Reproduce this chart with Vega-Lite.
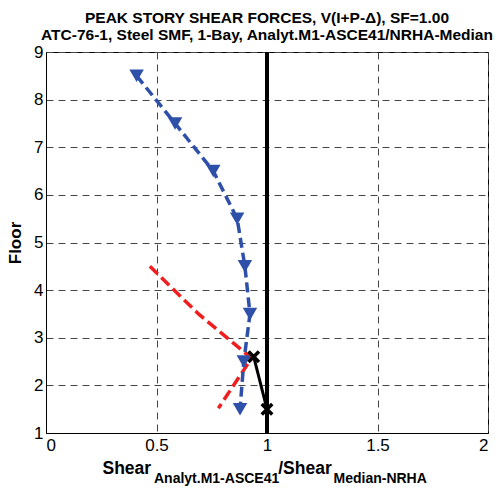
{
  "$schema": "https://vega.github.io/schema/vega-lite/v6.json",
  "width": 442,
  "height": 381,
  "autosize": {"type": "none"},
  "padding": {"left": 46, "top": 52, "right": 15, "bottom": 56},
  "background": "white",
  "title": {
    "text": ["PEAK STORY SHEAR FORCES, V(I+P-Δ), SF=1.00", "ATC-76-1, Steel SMF, 1-Bay, Analyt.M1-ASCE41/NRHA-Median"],
    "font": "Liberation Sans",
    "fontSize": 15.5,
    "fontWeight": "bold",
    "color": "black",
    "anchor": "middle",
    "frame": "group",
    "lineHeight": 16.5,
    "offset": 0
  },
  "config": {
    "view": {"stroke": "black", "strokeWidth": 1},
    "axis": {
      "labelFont": "Liberation Sans",
      "labelFontSize": 17,
      "labelColor": "black",
      "titleFont": "Liberation Sans",
      "titleFontWeight": "bold",
      "titleColor": "black",
      "domainColor": "black",
      "domainWidth": 1,
      "ticks": false,
      "gridColor": "#444444",
      "gridDash": [7, 5],
      "gridWidth": 1,
      "gridOpacity": 1
    }
  },
  "data": {
    "values": [
      {"series": "Analyt", "floor": 8.5, "ratio": 0.41},
      {"series": "Analyt", "floor": 7.5, "ratio": 0.584},
      {"series": "Analyt", "floor": 6.5, "ratio": 0.757},
      {"series": "Analyt", "floor": 5.5, "ratio": 0.865},
      {"series": "Analyt", "floor": 4.5, "ratio": 0.9},
      {"series": "Analyt", "floor": 3.5, "ratio": 0.923},
      {"series": "Analyt", "floor": 2.5, "ratio": 0.895},
      {"series": "Analyt", "floor": 1.5, "ratio": 0.878},
      {"series": "Red", "floor": 4.5, "ratio": 0.47},
      {"series": "Red", "floor": 3.5, "ratio": 0.69},
      {"series": "Red", "floor": 2.57, "ratio": 0.93},
      {"series": "Red", "floor": 1.52, "ratio": 0.78},
      {"series": "Black", "floor": 2.6, "ratio": 0.94},
      {"series": "Black", "floor": 1.5, "ratio": 1.0},
      {"series": "Ref", "floor": 1, "ratio": 1.0},
      {"series": "Ref", "floor": 9, "ratio": 1.0}
    ]
  },
  "encoding": {
    "y": {
      "field": "floor",
      "type": "quantitative",
      "scale": {"domain": [1, 9], "nice": false, "zero": false},
      "axis": {
        "title": "Floor",
        "values": [1, 2, 3, 4, 5, 6, 7, 8, 9],
        "labelPadding": 3,
        "titleFontSize": 17,
        "titleX": -26,
        "titleY": 190.5,
        "titleAngle": -90,
        "titleAlign": "center",
        "titleBaseline": "alphabetic",
        "grid": true
      }
    }
  },
  "layer": [
    {
      "transform": [{"filter": "datum.series === 'Red'"}],
      "mark": {"type": "line", "color": "#F01E1E", "strokeWidth": 3.5, "strokeDash": [11, 5]},
      "encoding": {
        "x": {
          "field": "ratio",
          "type": "quantitative",
          "scale": {"domain": [0, 2], "nice": false, "zero": false},
          "axis": {
            "orient": "bottom",
            "values": [0, 0.5, 1, 1.5, 2],
            "format": "~g",
            "labelPadding": 4,
            "grid": true,
            "title": "Shear",
            "titleFontSize": 17.5,
            "titleX": 56,
            "titleY": 40,
            "titleAlign": "left",
            "titleBaseline": "alphabetic"
          }
        },
        "order": {"field": "floor", "type": "quantitative", "sort": "descending"}
      }
    },
    {
      "transform": [{"filter": "datum.series === 'Analyt'"}],
      "mark": {"type": "line", "color": "#2E50A8", "strokeWidth": 3.5, "strokeDash": [10, 5]},
      "encoding": {
        "x": {
          "field": "ratio",
          "type": "quantitative",
          "scale": {"domain": [0, 2], "nice": false, "zero": false},
          "axis": {
            "orient": "bottom",
            "labels": false,
            "domain": false,
            "grid": false,
            "title": "Analyt.M1-ASCE41",
            "titleFontSize": 14,
            "titleX": 107.5,
            "titleY": 49,
            "titleAlign": "left",
            "titleBaseline": "alphabetic"
          }
        },
        "order": {"field": "floor", "type": "quantitative", "sort": "descending"}
      }
    },
    {
      "transform": [{"filter": "datum.series === 'Analyt'"}],
      "mark": {"type": "point", "shape": "triangle-down", "filled": true, "color": "#2E50A8", "size": 210, "opacity": 1},
      "encoding": {
        "x": {
          "field": "ratio",
          "type": "quantitative",
          "scale": {"domain": [0, 2], "nice": false, "zero": false},
          "axis": {
            "orient": "bottom",
            "labels": false,
            "domain": false,
            "grid": false,
            "title": "/Shear",
            "titleFontSize": 17.5,
            "titleX": 231.7,
            "titleY": 40,
            "titleAlign": "left",
            "titleBaseline": "alphabetic"
          }
        }
      }
    },
    {
      "transform": [{"filter": "datum.series === 'Ref'"}],
      "mark": {"type": "line", "color": "black", "strokeWidth": 4},
      "encoding": {
        "x": {
          "field": "ratio",
          "type": "quantitative",
          "scale": {"domain": [0, 2], "nice": false, "zero": false},
          "axis": {
            "orient": "bottom",
            "labels": false,
            "domain": false,
            "grid": false,
            "title": "Median-NRHA",
            "titleFontSize": 14,
            "titleX": 287,
            "titleY": 49,
            "titleAlign": "left",
            "titleBaseline": "alphabetic"
          }
        },
        "order": {"field": "floor", "type": "quantitative"}
      }
    },
    {
      "transform": [{"filter": "datum.series === 'Black'"}],
      "mark": {"type": "line", "color": "black", "strokeWidth": 3},
      "encoding": {
        "x": {
          "field": "ratio",
          "type": "quantitative",
          "scale": {"domain": [0, 2], "nice": false, "zero": false},
          "axis": null
        },
        "order": {"field": "floor", "type": "quantitative"}
      }
    },
    {
      "transform": [{"filter": "datum.series === 'Black'"}],
      "mark": {"type": "point", "shape": "M-1,-1L1,1M-1,1L1,-1", "filled": false, "color": "black", "strokeWidth": 3.5, "size": 110, "opacity": 1},
      "encoding": {
        "x": {
          "field": "ratio",
          "type": "quantitative",
          "scale": {"domain": [0, 2], "nice": false, "zero": false},
          "axis": null
        }
      }
    }
  ],
  "resolve": {"axis": {"x": "independent"}}
}
